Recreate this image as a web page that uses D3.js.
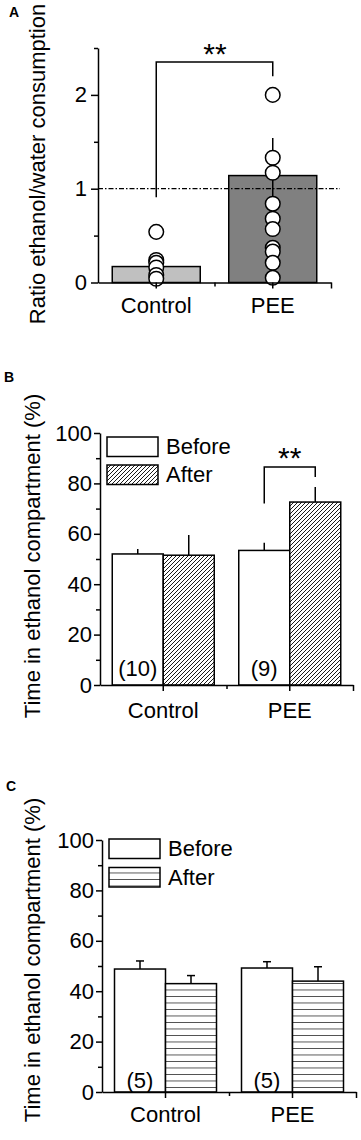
<!DOCTYPE html>
<html>
<head>
<meta charset="utf-8">
<script src="https://d3js.org/d3.v7.min.js"></script>
<style>
  body { margin: 0; background: #fff; }
  svg { display: block; font-family: "Liberation Sans", Arial, sans-serif; }
  .axis path, .axis line { stroke: #000; stroke-width: 1.5; }
  .axis text { font-size: 22px; fill: #000; }
</style>
</head>
<body>
<div id="chart"></div>
<script>
// ---- data ----
var groups = ["Control", "PEE"];
var phases = ["Before", "After"];

// panel A: ratio ethanol/water consumption
var ratioMean = [0.17, 1.14];
var ratioErr = [0.06, 0.40];
var ratioControlPts = [0.54, 0.24, 0.21, 0.16, 0.08, 0.04];
var ratioPeePts = [2.0, 1.33, 1.17, 0.84, 0.68, 0.57, 0.37, 0.33, 0.21, 0.05];
var ratioTicks = [0, 1, 2];
var ratioMinor = [0.5, 1.5, 2.5];

// panel B: place preference (hatched diagonal)
var prefBefore = [52, 53.4];
var prefBeforeErr = [2, 3];
var prefAfter = [51.5, 72.6];
var prefAfterErr = [8, 6];
var prefN = ["(10)", "(9)"];

// panel C: place preference (horizontal lines)
var ctrlBefore = [48.8, 49.2];
var ctrlBeforeErr = [3.2, 2.5];
var ctrlAfter = [43, 44];
var ctrlAfterErr = [3.2, 5.7];
var ctrlN = ["(5)", "(5)"];

var pctTicks = [0, 20, 40, 60, 80, 100];
var pctMinor = [10, 30, 50, 70, 90];

var W = 361, H = 1140;
var svg = d3.select("#chart").append("svg").attr("width", W).attr("height", H);
svg.append("rect").attr("width", W).attr("height", H).attr("fill", "#fff");

var defs = svg.append("defs");
var diag = defs.append("pattern").attr("id", "diag")
  .attr("patternUnits", "userSpaceOnUse").attr("width", 4).attr("height", 4);
diag.append("rect").attr("width", 4).attr("height", 4).attr("fill", "#fff");
diag.append("path").attr("d", "M-1,1 l2,-2 M0,4 l4,-4 M3,5 l2,-2")
  .attr("stroke", "#000").attr("stroke-width", 0.9);

var horiz = defs.append("pattern").attr("id", "horiz")
  .attr("patternUnits", "userSpaceOnUse").attr("width", 10).attr("height", 6.5)
  .attr("y", 1.5);
horiz.append("rect").attr("width", 10).attr("height", 6.5).attr("fill", "#fff");
horiz.append("line").attr("x1", 0).attr("x2", 10).attr("y1", 0).attr("y2", 0)
  .attr("stroke", "#000").attr("stroke-width", 1.3);

function panelLetter(t, x, y) {
  svg.append("text").attr("x", x).attr("y", y).text(t)
    .attr("font-size", 14).attr("font-weight", "bold");
}

function yLabel(t, x, y) {
  svg.append("text").attr("transform", "translate(" + x + "," + y + ") rotate(-90)")
    .attr("text-anchor", "middle").attr("font-size", 22).text(t);
}

function yAxis(y, x0, major, minor, size, pad, fmt) {
  svg.append("g").attr("class", "axis").attr("transform", "translate(" + x0 + ",0)")
    .call(d3.axisLeft(y).tickValues(minor).tickSize(4).tickFormat("").tickSizeOuter(0))
    .select(".domain").remove();
  svg.append("g").attr("class", "axis").attr("transform", "translate(" + x0 + ",0)")
    .call(d3.axisLeft(y).tickValues(major).tickSize(size).tickPadding(pad).tickSizeOuter(0).tickFormat(fmt));
}

function xAxis(x, y0, pad) {
  var r = x.range();
  var edge = d3.scaleLinear().domain([0, groups.length]).range(r);
  svg.append("g").attr("class", "axis").attr("transform", "translate(0," + y0 + ")")
    .call(d3.axisBottom(edge).tickValues([1]).tickSize(4).tickFormat("").tickSizeOuter(0));
  svg.append("g").attr("class", "axis").attr("transform", "translate(0," + y0 + ")")
    .call(d3.axisBottom(edge).tickValues([groups.length]).tickSize(6).tickFormat("").tickSizeOuter(0))
    .select(".domain").remove();
  svg.append("g").attr("class", "axis").attr("transform", "translate(0," + y0 + ")")
    .call(d3.axisBottom(x).tickSize(6).tickPadding(pad).tickSizeOuter(0))
    .select(".domain").remove();
}

function bracket(x1, x2, yl, yr, ytop, starX, starY) {
  svg.append("path")
    .attr("d", "M" + x1 + "," + yl + "V" + ytop + "H" + x2 + "V" + yr)
    .attr("fill", "none").attr("stroke", "#000").attr("stroke-width", 1.5);
  svg.append("text").attr("x", starX).attr("y", starY).attr("text-anchor", "middle")
    .attr("font-size", 30).text("**");
}

// ---------------- Panel A ----------------
(function () {
  var x = d3.scaleBand().domain(groups).range([98, 331]);
  var y = d3.scaleLinear().domain([0, 2.5]).range([282.5, 48]);
  var bw = 88;
  var fills = ["#c0c0c0", "#808080"];

  panelLetter("A", 9, 17);
  yLabel("Ratio ethanol/water consumption", 45, 164);

  svg.selectAll(".barA").data(groups).enter().append("rect")
    .attr("x", function (d) { return x(d) + x.bandwidth() / 2 - bw / 2; })
    .attr("y", function (d, i) { return y(ratioMean[i]); })
    .attr("width", bw)
    .attr("height", function (d, i) { return y(0) - y(ratioMean[i]); })
    .attr("fill", function (d, i) { return fills[i]; })
    .attr("stroke", "#000").attr("stroke-width", 1.5);

  svg.selectAll(".errA").data(groups).enter().append("line")
    .attr("x1", function (d) { return x(d) + x.bandwidth() / 2; })
    .attr("x2", function (d) { return x(d) + x.bandwidth() / 2; })
    .attr("y1", function (d, i) { return y(ratioMean[i] - ratioErr[i]); })
    .attr("y2", function (d, i) { return y(ratioMean[i] + ratioErr[i]); })
    .attr("stroke", "#000").attr("stroke-width", 1.5);

  svg.append("line").attr("x1", 98).attr("x2", 340).attr("y1", y(1)).attr("y2", y(1))
    .attr("stroke", "#000").attr("stroke-width", 1.3).attr("stroke-dasharray", "5,2,1.5,2");

  var pts = [ratioControlPts, ratioPeePts];
  groups.forEach(function (g, i) {
    svg.selectAll(".pt" + i).data(pts[i]).enter().append("circle")
      .attr("cx", x(g) + x.bandwidth() / 2)
      .attr("cy", function (d) { return y(d); })
      .attr("r", 7.3)
      .attr("fill", "#fff").attr("stroke", "#000").attr("stroke-width", 1.5);
  });

  yAxis(y, 98, ratioTicks, ratioMinor, 7, 4, d3.format("d"));
  xAxis(x, 282.5, 9);

  bracket(x("Control") + x.bandwidth() / 2, x("PEE") + x.bandwidth() / 2,
    y(0.91), y(2.2), y(2.35), 215, 64);
})();

// bar pair panel (B and C)
function pairPanel(opt) {
  var x = d3.scaleBand().domain(groups).range([opt.x0, opt.x1]);
  var y = d3.scaleLinear().domain([0, 100]).range([opt.y0, opt.y0 - 252]);
  var bw = 51;
  var sub = d3.scaleBand().domain(phases).range([-bw, bw]);
  var vals = { Before: opt.before, After: opt.after };
  var errs = { Before: opt.beforeErr, After: opt.afterErr };
  var fill = { Before: "#fff", After: "url(#" + opt.pattern + ")" };

  panelLetter(opt.letter, opt.lx, opt.ly);
  yLabel("Time in ethanol compartment (%)", 40, opt.labelY);

  phases.forEach(function (p) {
    var cx = function (d) { return x(d) + x.bandwidth() / 2 + sub(p); };
    svg.selectAll(".err" + p + opt.letter).data(groups).enter().append("line")
      .attr("x1", function (d) { return cx(d) + bw / 2; })
      .attr("x2", function (d) { return cx(d) + bw / 2; })
      .attr("y1", function (d, i) { return y(vals[p][i]); })
      .attr("y2", function (d, i) { return y(vals[p][i] + errs[p][i]); })
      .attr("stroke", "#000").attr("stroke-width", 1.5);
    if (opt.caps) {
      svg.selectAll(".cap" + p + opt.letter).data(groups).enter().append("line")
        .attr("x1", function (d) { return cx(d) + bw / 2 - 4; })
        .attr("x2", function (d) { return cx(d) + bw / 2 + 4; })
        .attr("y1", function (d, i) { return y(vals[p][i] + errs[p][i]); })
        .attr("y2", function (d, i) { return y(vals[p][i] + errs[p][i]); })
        .attr("stroke", "#000").attr("stroke-width", 1.5);
    }
    svg.selectAll(".bar" + p + opt.letter).data(groups).enter().append("rect")
      .attr("x", cx)
      .attr("y", function (d, i) { return y(vals[p][i]); })
      .attr("width", bw)
      .attr("height", function (d, i) { return y(0) - y(vals[p][i]); })
      .attr("fill", fill[p])
      .attr("stroke", "#000").attr("stroke-width", 1.5);
  });

  svg.selectAll(".n" + opt.letter).data(groups).enter().append("text")
    .attr("x", function (d) { return x(d) + x.bandwidth() / 2 - bw / 2; })
    .attr("y", opt.y0 - opt.nUp)
    .attr("text-anchor", "middle").attr("font-size", 22)
    .text(function (d, i) { return opt.n[i]; });

  // legend
  phases.forEach(function (p, i) {
    var ly = opt.legY + i * opt.legStep;
    svg.append("rect").attr("x", opt.x0 + 7).attr("y", ly).attr("width", 51).attr("height", 19.5)
      .attr("fill", fill[p]).attr("stroke", "#000").attr("stroke-width", 1.5);
    svg.append("text").attr("x", opt.x0 + 66).attr("y", ly + 17)
      .attr("font-size", 22).text(p);
  });

  yAxis(y, opt.x0, pctTicks, pctMinor, 6, 2, d3.format("d"));
  xAxis(x, opt.y0, opt.xPad);
  return { x: x, y: y, bw: bw };
}

// ---------------- Panel B ----------------
var pb = pairPanel({
  letter: "B", lx: 4, ly: 382,
  x0: 100, x1: 353, y0: 685, labelY: 556,
  before: prefBefore, beforeErr: prefBeforeErr,
  after: prefAfter, afterErr: prefAfterErr,
  n: prefN, nUp: 9, pattern: "diag", caps: false,
  legY: 437, legStep: 28, xPad: 11
});
(function () {
  var c = pb.x("PEE") + pb.x.bandwidth() / 2;
  bracket(c - pb.bw / 2, c + pb.bw / 2, pb.y(72), pb.y(82.5), pb.y(86.5), c, 468);
})();

// ---------------- Panel C ----------------
pairPanel({
  letter: "C", lx: 6, ly: 791,
  x0: 102, x1: 356, y0: 1092, labelY: 960,
  before: ctrlBefore, beforeErr: ctrlBeforeErr,
  after: ctrlAfter, afterErr: ctrlAfterErr,
  n: ctrlN, nUp: 4, pattern: "horiz", caps: true,
  legY: 839, legStep: 28.5, xPad: 8
});
</script>
</body>
</html>
